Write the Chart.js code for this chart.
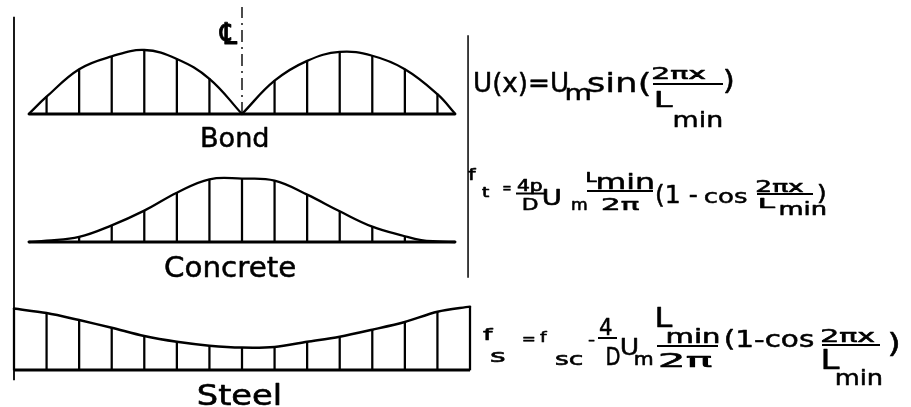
<!DOCTYPE html>
<html>
<head>
<meta charset="utf-8">
<script src="https://cdn.jsdelivr.net/npm/chart.js@4/dist/chart.umd.min.js"></script>
<style>
  html, body { margin: 0; padding: 0; background: #fff; }
  #wrap { position: relative; width: 911px; height: 407px; }
  canvas { display: block; }
</style>
</head>
<body>
<div id="wrap"><canvas id="c" width="911" height="407"></canvas></div>
<script>
// Positions along the span are in hatch stations (centre line = 0, bar ends = ±7).
// Values are fractions of each diagram's peak ordinate.

// Bond stress U(x): two half-waves meeting at the centre line
const bondLeftX  = [-6.55, -6, -5, -4, -3, -2, -1, 0];
const bondLeftV  = [0, 0.27, 0.70, 0.90, 1.00, 0.86, 0.55, 0];
const bondRightX = [0, 1, 2, 3, 4, 5, 6, 6.55];
const bondRightV = [0, 0.52, 0.83, 0.97, 0.91, 0.70, 0.31, 0];
const bondHatch  = [-6, -5, -4, -3, -2, -1, 1, 2, 3, 4, 5, 6];

// Concrete stress f_t
const concreteX = [-6.55, -6, -5, -4, -3, -2, -1, 0, 1, 2, 3, 4, 5, 5.5, 6, 6.55];
const concreteV = [0, 0.02, 0.08, 0.26, 0.49, 0.77, 0.98, 0.99, 0.96, 0.74, 0.48, 0.24, 0.09, 0.03, 0.01, 0];
const concreteHatch = [-5, -4, -3, -2, -1, 0, 1, 2, 3, 4, 5];

// Steel stress f_s
const steelX = [-7, -6, -5, -4, -3, -2, -1, 0, 1, 2, 3, 4, 5, 6, 7];
const steelV = [0.96, 0.89, 0.78, 0.66, 0.53, 0.44, 0.38, 0.35, 0.36, 0.44, 0.52, 0.63, 0.75, 0.91, 0.99];
const steelHatch = [-7, -6, -5, -4, -3, -2, -1, 0, 1, 2, 3, 4, 5, 6, 7];

// Span limits of each diagram's base line
const bondSpan = [-6.55, 6.55];
const concreteSpan = [-6.55, 6.55];
const steelSpan = [-7, 7];

// Vertical offsets of the three diagrams on the shared y axis
const BASE = { bond: 4, concrete: 2, steel: 0 };

// Guide lines: outer left line, right divider, centre line
const leftGuide   = { x: -7,   y: [-0.16, 5.52] };
const rightGuide  = { x: 6.94, y: [1.44, 5.23] };
const centreGuide = { x: 0,    y: [4.0, 5.67] };

const INK = '#000';

function curve(xs, vs, base, width, tension) {
  return {
    type: 'line',
    data: xs.map((x, i) => ({ x: x, y: base + vs[i] })),
    borderColor: INK, borderWidth: width, pointRadius: 0, fill: false,
    tension: tension, clip: false, order: 1,
    borderCapStyle: 'round', borderJoinStyle: 'round'
  };
}
function hatch(xs, vs, stations, base) {
  const pts = [];
  stations.forEach(s => {
    const i = xs.indexOf(s);
    if (i >= 0) pts.push({ x: s, y: [base, base + vs[i]] });
  });
  return {
    type: 'bar', data: pts, backgroundColor: INK, borderWidth: 0,
    barThickness: 1.6, grouped: false, clip: false, order: 2
  };
}
function segment(x0, x1, y0, y1, width, dash) {
  return {
    type: 'line', data: [{ x: x0, y: y0 }, { x: x1, y: y1 }],
    borderColor: INK, borderWidth: width, pointRadius: 0, fill: false,
    borderDash: dash || [], clip: false, tension: 0, order: 0
  };
}

const datasets = [
  // bond
  curve(bondLeftX, bondLeftV, BASE.bond, 2.3, 0.4),
  curve(bondRightX, bondRightV, BASE.bond, 2.3, 0.4),
  hatch(bondLeftX, bondLeftV, bondHatch, BASE.bond),
  hatch(bondRightX, bondRightV, bondHatch, BASE.bond),
  segment(bondSpan[0], bondSpan[1], BASE.bond, BASE.bond, 2.8),
  // concrete
  curve(concreteX, concreteV, BASE.concrete, 2.3, 0.4),
  hatch(concreteX, concreteV, concreteHatch, BASE.concrete),
  segment(concreteSpan[0], concreteSpan[1], BASE.concrete, BASE.concrete, 2.8),
  // steel
  curve(steelX, steelV, BASE.steel, 2.5, 0.3),
  hatch(steelX, steelV, steelHatch, BASE.steel),
  segment(steelSpan[0], steelSpan[1], BASE.steel, BASE.steel, 3),
  // guides
  segment(leftGuide.x, leftGuide.x, leftGuide.y[0], leftGuide.y[1], 1.8),
  segment(rightGuide.x, rightGuide.x, rightGuide.y[0], rightGuide.y[1], 1.5),
  segment(centreGuide.x, centreGuide.x, centreGuide.y[0], centreGuide.y[1], 1.4, [12, 5, 2, 5])
];

// Lettering: [text, left, right, baseline, font size, stroke weight]
const FONT = '"DejaVu Sans", sans-serif';
const captions = [
  ['Bond', 202, 268, 147, 26, 0.5],
  ['Concrete', 165, 295, 277, 28, 0.5],
  ['Steel', 198, 280, 405, 28, 0.6],
  ['\u2104', 219, 237, 44, 30, 0.9]
];
const formulaText = [
  // U(x) = Um sin(2πx / Lmin)
  ['U(x)=U', 475, 567, 92, 26, 0.5],
  ['m', 567, 590, 100, 22, 0.5],
  ['sin(', 588, 650, 92, 26, 0.4],
  ['2πx', 653, 705, 79, 16, 0.6],
  ['L', 657, 673, 107, 21, 0.6],
  ['min', 675, 722, 127, 22, 0.5],
  [')', 725, 733, 89, 27, 0.5],
  // f_t = 4p/D Um Lmin/2π (1 - cos 2πx/Lmin)
  ['f', 468, 476, 180, 16, 0.6],
  ['t', 482, 490, 197, 14, 0.6],
  ['=', 503, 511, 193, 14, 0.5],
  ['4p', 517, 542, 191, 15, 0.6],
  ['D', 523, 538, 210, 16, 0.6],
  ['U', 543, 560, 205, 21, 0.6],
  ['m', 572, 587, 210, 16, 0.6],
  ['L', 587, 597, 182, 14, 0.6],
  ['min', 597, 653, 189, 21, 0.5],
  ['2π', 603, 640, 210, 16, 0.6],
  ['(1 -', 657, 697, 203, 24, 0.5],
  ['cos', 705, 747, 203, 20, 0.5],
  ['2πx', 757, 803, 192, 16, 0.6],
  ['L', 760, 778, 208, 14, 0.6],
  ['min', 780, 825, 215, 18, 0.6],
  [')', 818, 825, 200, 22, 0.5],
  // f_s = f_sc - 4/D Um Lmin/2π (1 - cos 2πx/Lmin)
  ['f', 483, 493, 340, 16, 0.6],
  ['s', 490, 505, 362, 18, 0.6],
  ['=', 523, 535, 344, 14, 0.5],
  ['f', 540, 548, 342, 14, 0.6],
  ['sc', 555, 582, 365, 18, 0.6],
  ['-', 588, 595, 345, 14, 0.5],
  ['4', 600, 612, 335, 23, 0.5],
  ['D', 607, 620, 365, 24, 0.5],
  ['U', 622, 637, 355, 23, 0.5],
  ['m', 635, 652, 365, 18, 0.6],
  ['L', 657, 673, 327, 26, 0.5],
  ['min', 667, 718, 343, 20, 0.6],
  ['2π', 660, 713, 367, 20, 0.6],
  ['(1-cos', 725, 813, 347, 23, 0.5],
  ['2πx', 822, 875, 342, 17, 0.6],
  ['L', 823, 840, 369, 26, 0.5],
  ['min', 837, 882, 385, 22, 0.5],
  [')', 890, 898, 352, 26, 0.5]
];
// Fraction bars: [left, right, y]
const fractionBars = [
  [653, 723, 84],
  [516, 546, 193.5], [587, 653, 191], [757, 813, 194],
  [598, 617, 338], [657, 718, 346], [822, 880, 345]
];

function fitText(ctx, text, x0, x1, baseline, size, weight) {
  ctx.font = size + 'px ' + FONT;
  const m = ctx.measureText(text);
  const ink = (m.actualBoundingBoxRight + m.actualBoundingBoxLeft) || m.width;
  let sx = (x1 - x0) / ink;
  sx = Math.max(0.55, Math.min(2.2, sx));
  ctx.save();
  ctx.translate(x0 + m.actualBoundingBoxLeft * sx, baseline);
  ctx.scale(sx, 1);
  ctx.fillText(text, 0, 0);
  if (weight) {
    ctx.lineWidth = weight;
    ctx.lineJoin = 'round';
    ctx.strokeText(text, 0, 0);
  }
  ctx.restore();
}

const lettering = {
  id: 'lettering',
  afterDraw(chart) {
    const ctx = chart.ctx;
    ctx.save();
    ctx.fillStyle = INK;
    ctx.strokeStyle = INK;
    ctx.textBaseline = 'alphabetic';
    ctx.textAlign = 'left';
    captions.concat(formulaText).forEach(t => fitText(ctx, t[0], t[1], t[2], t[3], t[4], t[5]));
    ctx.lineWidth = 2;
    fractionBars.forEach(b => {
      ctx.beginPath();
      ctx.moveTo(b[0], b[2]);
      ctx.lineTo(b[1], b[2]);
      ctx.stroke();
    });
    ctx.restore();
  }
};

new Chart(document.getElementById('c'), {
  type: 'line',
  data: { datasets: datasets },
  options: {
    responsive: false,
    devicePixelRatio: 1,
    animation: false,
    events: [],
    layout: { padding: { left: 14, right: 441, top: 10, bottom: 5 } },
    scales: {
      x: { type: 'linear', min: -7, max: 7, display: false, offset: false },
      y: { type: 'linear', min: -0.5, max: 5.625, display: false }
    },
    plugins: { legend: { display: false }, tooltip: { enabled: false } }
  },
  plugins: [lettering]
});
</script>
</body>
</html>
